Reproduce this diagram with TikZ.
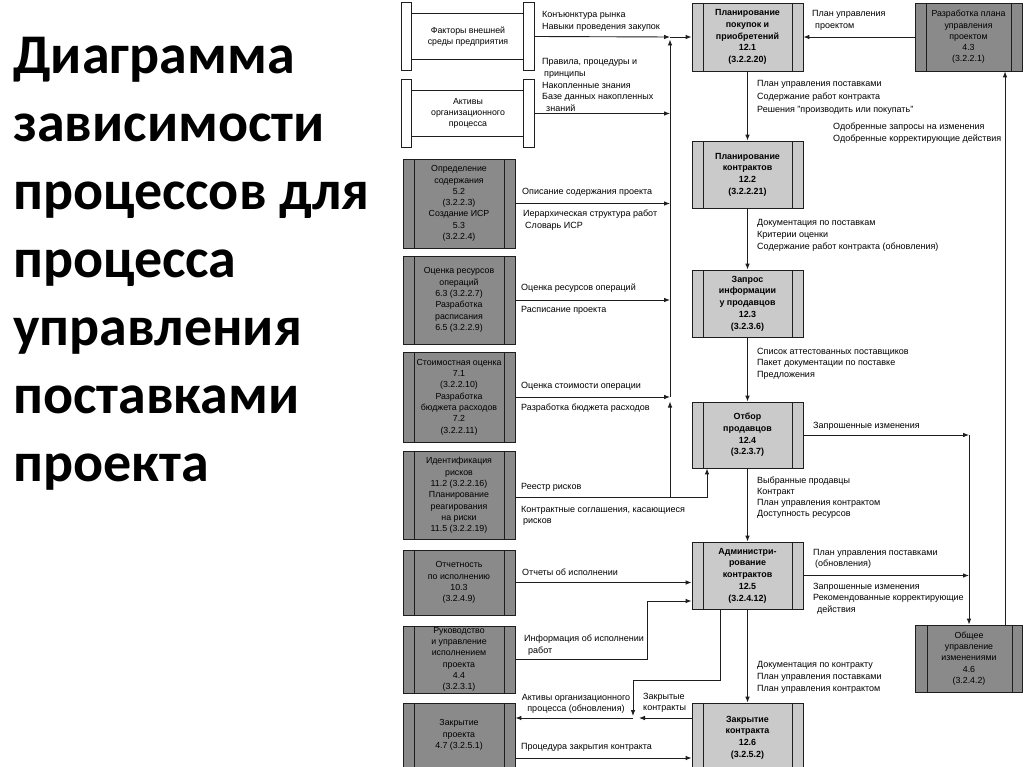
\documentclass[tikz,border=0pt]{standalone}
\usepackage{fontspec}
\setmainfont{Liberation Sans}
\newfontfamily\titlefont{Carlito}
\usetikzlibrary{arrows.meta,calc}
\definecolor{darkfill}{RGB}{138,138,138}
\definecolor{lightfill}{RGB}{202,202,202}
\definecolor{edge}{RGB}{30,30,30}
\tikzset{
  boxfont/.style={font=\fontsize{8.8}{11.3}\selectfont},
  boldfont/.style={font=\bfseries\fontsize{8.9}{11.7}\selectfont},
  stripped/.style={draw=edge, line width=0.8pt, inner sep=0pt, align=center,
    path picture={\draw[edge, line width=0.7pt]
      ([xshift=11.5pt]path picture bounding box.north west) -- ([xshift=11.5pt]path picture bounding box.south west)
      ([xshift=-10.5pt]path picture bounding box.north east) -- ([xshift=-10.5pt]path picture bounding box.south east);}},
  leftbox/.style={stripped, fill=darkfill, minimum width=112pt, boxfont},
  midbox/.style={stripped, fill=lightfill, minimum width=111pt, boldfont},
  rightbox/.style={stripped, fill=darkfill, minimum width=107pt, boxfont},
  framebox/.style={inner sep=0pt, align=center, minimum width=132pt, minimum height=67pt, boxfont},
  barst/.style={draw=edge, line width=0.8pt, fill=white},
  lbl/.style={anchor=base west, inner sep=0pt, align=left, font=\fontsize{9}{#1}\selectfont},
  lbl/.default=11.8,
  arr/.style={draw=edge, line width=0.9pt, -{Latex[length=6pt,width=4.6pt]}},
  ln/.style={draw=edge, line width=0.9pt}
}
\begin{document}
\begin{tikzpicture}[x=1pt,y=-1pt]
\useasboundingbox (0,0) rectangle (1024,767);
\clip (0,0) rectangle (1024,767);
\fill[white] (0,0) rectangle (1024,767);

% title (base anchor = baseline of last line)
\node[anchor=base west, align=left, inner sep=0pt, font=\titlefont\bfseries\fontsize{56}{68}\selectfont] (title) at (13,481)
 {Диаграмма\\зависимости\\процессов для\\процесса\\управления\\поставками\\проекта};

% frame boxes
\node[framebox] (fact) at (468,36.5) {Факторы внешней\\среды предприятия};
\node[framebox] (act) at (468,113.5) {Активы\\организационного\\процесса};
\foreach \n in {fact,act} {
  \draw[barst] (\n.north west) rectangle ([xshift=10pt]\n.south west);
  \draw[barst] (\n.north east) rectangle ([xshift=-11pt]\n.south east);
  \draw[ln, line width=0.8pt] ([xshift=10pt,yshift=-11pt]\n.north west) -- ([xshift=-11pt,yshift=-11pt]\n.north east);
  \draw[ln, line width=0.8pt] ([xshift=10pt,yshift=10.5pt]\n.south west) -- ([xshift=-11pt,yshift=10.5pt]\n.south east);
}

% left boxes
\node[leftbox, minimum height=89pt] (b52) at (459,203.5) {Определение\\содержания\\5.2\\(3.2.2.3)\\Создание ИСР\\5.3\\(3.2.2.4)};
\node[leftbox, minimum height=88pt] (b63) at (459,300) {Оценка ресурсов\\операций\\6.3 (3.2.2.7)\\Разработка\\расписания\\6.5 (3.2.2.9)};
\node[leftbox, minimum height=90pt] (b71) at (459,397) {Стоимостная оценка\\7.1\\(3.2.2.10)\\Разработка\\бюджета расходов\\7.2\\(3.2.2.11)};
\node[leftbox, minimum height=88pt] (b112) at (459,495.5) {Идентификация\\рисков\\11.2 (3.2.2.16)\\Планирование\\реагирования\\на риски\\11.5 (3.2.2.19)};
\node[leftbox, minimum height=65pt] (b103) at (459,582.5) {Отчетность\\по исполнению\\10.3\\(3.2.4.9)};
\node[leftbox, minimum height=67pt] (b44) at (459,659.5) {Руководство\\и управление\\исполнением\\проекта\\4.4\\(3.2.3.1)};
\node[leftbox, minimum height=64pt] (b47) at (459,735) {Закрытие\\проекта\\4.7 (3.2.5.1)};

% middle boxes
\node[midbox, minimum height=68pt] (b121) at (747.5,37) {Планирование\\покупок и\\приобретений\\12.1\\(3.2.2.20)};
\node[midbox, minimum height=67pt] (b122) at (747.5,174.5) {Планирование\\контрактов\\12.2\\(3.2.2.21)};
\node[midbox, minimum height=67pt] (b123) at (747.5,303.5) {Запрос\\информации\\у продавцов\\12.3\\(3.2.3.6)};
\node[midbox, minimum height=66pt] (b124) at (747.5,435) {Отбор\\продавцов\\12.4\\(3.2.3.7)};
\node[midbox, minimum height=67pt] (b125) at (747.5,575.5) {Администри-\\рование\\контрактов\\12.5\\(3.2.4.12)};
\node[midbox, minimum height=69pt] (b126) at (747.5,737.5) {Закрытие\\контракта\\12.6\\(3.2.5.2)};

% right boxes
\node[rightbox, minimum height=68pt] (b43) at (968.5,37) {Разработка плана\\управления\\проектом\\4.3\\(3.2.2.1)};
\node[rightbox, minimum height=67pt] (b46) at (969,658.5) {Общее\\управление\\изменениями\\4.6\\(3.2.4.2)};

% coordinates
\coordinate (busTop) at (670,37);
\coordinate (busUp) at (670,39.5);
\coordinate (busB) at (670,397);
\coordinate (busC) at (670,401.5);
\coordinate (busD) at (670,497);
\coordinate (riskTurn) at (707,497);
\coordinate (rbus) at (1005,0);
\coordinate (cbus) at (969,435);
\coordinate (w1) at (647,659.5);
\coordinate (w2) at (647,601);
\coordinate (c1) at (720,680);
\coordinate (c2) at (633,680);
\coordinate (c3) at (633,716);
\coordinate (cc) at (639,718);
\coordinate (aa) at (633,718);
\coordinate (pp) at (600,758);

% connectors into the bus
\draw[arr] (fact.east) -- (busTop);
\draw[arr] (busTop) -- (b121.west);
\draw[arr] (busB) -- (busUp);
\draw[arr] (act.east) -- (act.east -| busB);
\draw[arr] (b52.east) -- (b52.east -| busB);
\draw[arr] (b63.east) -- (b63.east -| busB);
\draw[arr] (b71.east) -- (b71.east -| busB);
\draw[arr] (busD) -- (busC);
\draw[arr] (b112.east |- busD) -- (riskTurn) -- (riskTurn |- b124.south);

% right side
\draw[arr] (b43.west) -- (b121.east);
\draw[arr] (b46.north -| rbus) -- (b43.south -| rbus);
\draw[arr] (b124.east) -- (cbus);
\draw[arr] (cbus) -- (b46.north);
\draw[arr] (b125.east) -- (b125.east -| cbus);

% main chain
\draw[arr] (b121.south) -- (b122.north);
\draw[arr] (b122.south) -- (b123.north);
\draw[arr] (b123.south) -- (b124.north);
\draw[arr] (b124.south) -- (b125.north);
\draw[arr] (b125.south) -- (b126.north);

% lower left
\draw[arr] (b103.east) -- (b103.east -| b125.west);
\draw[arr] (b44.east) -- (w1) -- (w2) -- (w2 -| b125.west);
\draw[arr] (b125.south -| c1) -- (c1) -- (c2) -- (c3);
\draw[arr] (b126.west |- cc) -- (cc);
\draw[arr] (aa) -- (b47.east |- aa);
\draw[arr] (b47.east |- pp) -- (b126.west |- pp);

% labels (base = baseline of last line)
\node[lbl=12] (l1) at (542,29.5) {Конъюнктура рынка\\Навыки проведения закупок};
\node[lbl=11.6] (l2) at (542,111.4) {Правила, процедуры и\\\hspace*{2pt}принципы\\Накопленные знания\\Базе данных накопленных\\\hspace*{4pt}знаний};
\node[lbl] (l3) at (522,195) {Описание содержания проекта};
\node[lbl=12] (l4) at (523,229) {Иерархическая структура работ\\\hspace*{2pt}Словарь ИСР};
\node[lbl] (l5) at (521,290) {Оценка ресурсов операций};
\node[lbl] (l6) at (521,312) {Расписание проекта};
\node[lbl] (l7) at (521,388) {Оценка стоимости операции};
\node[lbl] (l8) at (521,410) {Разработка бюджета расходов};
\node[lbl] (l9) at (521,489) {Реестр рисков};
\node[lbl=11.5] (l10) at (521,523.5) {Контрактные соглашения, касающиеся\\\hspace*{2pt}рисков};
\node[lbl] (l11) at (522,575) {Отчеты об исполнении};
\node[lbl=12] (l12) at (524,653) {Информация об исполнении\\\hspace*{4pt}работ};
\node[anchor=base, inner sep=0pt, align=center, font=\fontsize{9}{11.8}\selectfont] (l13) at (576,711.8) {Активы организационного\\процесса (обновления)};
\node[lbl=11] (l14) at (643,710) {Закрытые\\контракты};
\node[lbl] (l15) at (521,749) {Процедура закрытия контракта};
\node[lbl=12] (l16) at (812,29) {План управления\\\hspace*{3pt}проектом};
\node[lbl=12.7] (l17) at (757,112.4) {План управления поставками\\Содержание работ контракта\\Решения "производить или покупать"};
\node[lbl=11.5] (l18) at (833,141.5) {Одобренные запросы на изменения\\Одобренные корректирующие действия};
\node[lbl=12.3] (l19) at (757,249.6) {Документация по поставкам\\Критерии оценки\\Содержание работ контракта (обновления)};
\node[lbl=11.8] (l20) at (757,377.6) {Список аттестованных поставщиков\\Пакет документации по поставке\\Предложения};
\node[lbl] (l21) at (813,428) {Запрошенные изменения};
\node[lbl=11] (l22) at (757,516) {Выбранные продавцы\\Контракт\\План управления контрактом\\Доступность ресурсов};
\node[lbl=11] (l23) at (813,566) {План управления поставками\\\hspace*{2pt}(обновления)};
\node[lbl=11.7] (l24) at (813,612.4) {Запрошенные изменения\\Рекомендованные корректирующие\\\hspace*{4pt}действия};
\node[lbl=12] (l25) at (757,691) {Документация по контракту\\План управления поставками\\План управления контрактом};
\end{tikzpicture}
\end{document}
